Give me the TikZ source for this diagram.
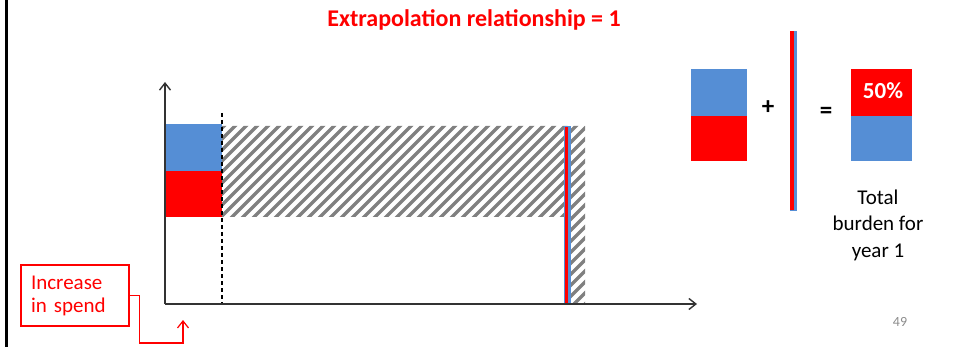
\documentclass[tikz,border=0pt]{standalone}
\usepackage{fontspec}
\setmainfont{Carlito}
\usepackage{xcolor}
\usetikzlibrary{arrows.meta, calc, positioning}
\definecolor{barblue}{RGB}{85,142,213}
\definecolor{hatchgray}{RGB}{128,128,128}

\begin{document}
\begin{tikzpicture}[
    x=1pt, y=-1pt,
    axis/.style={draw=black!80, line width=1.4pt,
                 -{Straight Barb[length=7pt, width=11pt]}},
    bluebox/.style={fill=barblue},
    redbox/.style={fill=red},
    stripe/.style={draw=hatchgray, line width=3.4pt},
    callout/.style={draw=red, line width=1.2pt, text=red, align=left,
                    text width=88pt, inner xsep=10pt, minimum width=108pt,
                    minimum height=61pt, font=\fontsize{21}{23}\selectfont},
    link/.style={red, line width=1.2pt,
                 -{Straight Barb[length=7pt, width=11pt]}},
    label/.style={font=\fontsize{21}{26.5}\selectfont, align=center},
    sign/.style={font=\bfseries\fontsize{25}{27}\selectfont},
]
\useasboundingbox (0,0) rectangle (960,347);
\draw[line width=3pt] (6.5,0) -- (6.5,347);

\node[text=red, font=\bfseries\fontsize{24}{27}\selectfont] (title) at (474,20)
   {Extrapolation relationship = 1};

% hatched burden area
\begin{scope}
  \clip (222,126) rectangle (585,217) (568,217) rectangle (585,304);
  \foreach \x in {40,51,...,600}
    \draw[stripe] (\x,310) -- ++(190,-190);
\end{scope}

% year 1 bars
\fill[bluebox] (166,124) rectangle (222,171);
\fill[redbox] (166,171) rectangle (222,217);
\draw[line width=1.2pt, dash pattern=on 4pt off 3pt] (222,113) -- (222,304);
\fill[bluebox] (564,126) rectangle (571,305);
\fill[redbox] (564.5,127) rectangle (568,304);

% axes
\coordinate (origin) at (165,304);
\coordinate (ytop) at (165,82);
\coordinate (xend) at (697,304);
\draw[axis] (origin) -- (ytop);
\draw[axis] (origin) -- (xend);

% callout
\node[callout] (spend) at (75,295.5) {Increase\\in spend};
\coordinate (bend) at (183,343);
\coordinate (tgt) at (183,320);
\draw[link] (spend.east) -- ++(10,0) |- (bend) -- (tgt);

% sum on the right
\fill[bluebox] (691,69) rectangle (747,116);
\fill[redbox] (691,116) rectangle (747,161);
\node[sign] (plus) at (768,108) {+};
\fill[barblue] (790,31) rectangle (797,211);
\fill[red] (790,31.5) rectangle (794,210.5);
\node[sign] (eq) at (826,113) {=};
\fill[redbox] (851,69) rectangle (912,116);
\fill[bluebox] (851,116) rectangle (912,161);
\node[text=white, font=\bfseries\fontsize{23}{26}\selectfont] (pct) at (883,91) {50\%};
\node[label] (total) at (878,225) {Total\\burden for\\year 1};

\node[text=black!45, font=\fontsize{14}{16}\selectfont] (page) at (900,322) {49};
\end{tikzpicture}
\end{document}
